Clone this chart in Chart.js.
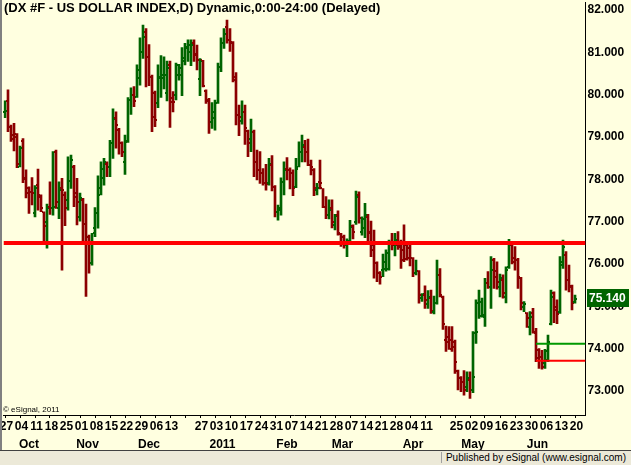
<!DOCTYPE html>
<html>
<head>
<meta charset="utf-8">
<script src="https://cdn.jsdelivr.net/npm/chart.js@4.4.1/dist/chart.umd.min.js"></script>
<style>
  html, body { margin: 0; padding: 0; background: #ece9d8; }
  #wrap { position: relative; width: 631px; height: 465px; overflow: hidden; }
  #chart { position: absolute; left: 0; top: 0; background: #ffffe0; }
  #edge { position: absolute; left: 0; top: 0; width: 2px; height: 450px; background: #808080; }
  #footer { position: absolute; left: 0; top: 450px; width: 631px; height: 14px; border-top: 1px solid #404040;
            background: #ece9d8; font: 10px "Liberation Sans", Arial, sans-serif; color: #000; }
  #footer span { position: absolute; right: 5px; top: 1px; padding-left: 4px; border-left: 1px solid #a0a0a0; }
</style>
</head>
<body>
<div id="wrap">
  <canvas id="chart" width="631" height="450"></canvas>
  <div id="edge"></div>
  <div id="footer"><span>Published by eSignal (www.esignal.com)</span></div>
</div>
<script>
// daily DX bars, 27 Sep 2010 .. 20 Jun 2011 (one bar per weekday)
const opens = [
  79.57,79.83,79.22,79.02,79.04,78.27,78.88,77.98,77.76,77.68,
  77.17,77.84,77.57,77.20,76.98,77.33,77.31,78.63,77.29,77.76,
  77.61,77.49,77.94,78.27,77.57,77.09,77.49,76.91,76.62,75.99,
  76.82,77.17,77.76,78.00,78.35,78.27,78.83,79.42,79.14,78.83,
  78.39,78.86,79.85,79.97,79.93,80.36,80.99,81.46,80.87,80.40,
  80.01,79.77,80.40,80.36,80.01,80.68,79.89,79.97,80.44,80.44,
  80.76,81.11,80.99,81.19,80.91,80.35,80.79,80.06,79.85,79.34,
  79.57,79.79,80.64,81.19,81.58,81.27,81.19,80.40,79.50,79.35,
  79.57,79.12,78.93,79.10,78.39,78.20,78.12,77.88,77.88,78.31,
  77.80,77.21,77.25,77.92,78.23,78.20,78.12,77.80,78.27,78.63,
  78.75,78.63,78.31,78.20,77.72,77.92,77.76,77.33,77.13,77.29,
  76.90,77.13,76.68,76.62,76.43,76.50,76.88,76.98,77.61,76.74,
  76.82,77.09,76.74,76.42,75.99,75.76,75.83,75.87,75.87,76.50,
  76.50,76.42,76.39,76.31,76.42,76.35,76.11,75.76,75.80,75.17,
  75.24,75.03,75.17,74.85,75.05,75.72,75.20,74.18,74.26,74.18,
  74.14,73.46,73.28,73.20,73.08,73.24,73.00,74.34,75.05,74.75,
  74.73,75.52,75.44,76.07,75.80,75.44,75.60,75.20,75.91,76.43,
  76.11,76.07,75.64,74.97,74.81,74.50,74.81,74.38,73.94,73.79,
  73.63,73.71,74.57,75.28,74.97,74.85,75.95,76.19,75.60,75.44,
  75.09
];
const highs = [
  79.83,80.09,79.26,79.30,79.06,78.76,78.94,78.20,77.80,78.02,
  77.83,78.22,77.61,77.21,77.39,77.92,78.63,78.67,77.92,78.00,
  77.68,78.51,78.55,78.31,78.00,77.65,77.53,77.39,76.66,76.70,
  77.31,78.06,78.39,78.47,78.39,78.90,79.64,79.57,79.18,78.86,
  79.02,79.91,80.14,80.17,80.68,81.32,81.62,81.54,81.16,80.44,
  80.06,80.68,80.90,80.87,80.77,80.77,80.05,80.72,80.69,81.09,
  81.19,81.27,81.27,81.27,81.15,80.83,80.79,80.09,79.89,79.79,
  79.85,80.72,81.32,81.54,81.74,81.54,81.23,80.50,79.73,79.83,
  79.73,79.14,79.40,79.14,78.67,78.63,78.23,78.33,78.47,78.54,
  77.83,77.37,78.01,78.39,78.49,78.25,78.20,78.47,78.86,79.02,
  78.90,78.93,78.43,78.23,77.88,78.43,77.76,77.57,77.49,77.49,
  77.15,77.23,76.70,76.66,76.57,77.01,76.90,77.70,77.68,77.09,
  77.41,77.15,76.99,76.78,76.03,75.80,76.21,76.31,76.54,76.70,
  76.70,76.74,76.54,76.90,76.50,76.43,76.13,76.07,75.82,75.28,
  75.46,75.35,75.36,75.22,76.07,75.87,75.22,74.51,74.50,74.50,
  74.18,73.47,73.32,73.46,73.43,73.43,74.38,75.13,75.36,75.17,
  75.64,75.80,76.15,76.11,76.03,75.74,75.72,75.91,76.56,76.46,
  76.39,76.11,75.66,75.09,74.83,74.85,74.93,74.46,73.98,73.94,
  73.96,74.30,75.36,75.32,75.13,76.15,76.54,76.27,75.95,75.48,
  75.24
];
const lows = [
  79.43,79.10,78.87,78.65,78.25,78.27,77.90,77.54,77.17,77.37,
  77.09,77.25,77.21,76.46,76.35,77.15,77.13,77.29,77.05,75.83,
  76.88,77.25,77.76,77.33,76.90,76.99,76.50,75.21,75.76,75.95,
  76.62,76.82,77.61,77.84,78.04,78.04,78.47,78.71,78.57,78.51,
  78.09,78.85,79.51,79.69,79.91,80.20,80.83,80.16,80.19,79.10,
  79.22,79.67,79.91,80.11,79.83,79.20,79.57,79.85,80.32,79.95,
  80.68,80.76,80.66,80.76,80.56,79.95,80.16,79.77,79.06,79.18,
  79.14,79.77,80.52,81.07,81.19,81.00,80.28,79.26,79.01,79.28,
  78.80,78.51,78.63,78.04,77.96,77.88,77.84,77.72,77.84,77.70,
  77.09,77.01,77.13,77.61,77.96,77.75,77.59,77.78,78.27,78.39,
  78.39,78.30,78.08,77.59,77.61,77.75,77.31,77.05,77.04,76.83,
  76.78,76.66,76.39,76.35,76.15,76.44,76.57,76.91,76.94,76.66,
  76.60,76.49,76.15,75.64,75.56,75.50,75.68,75.81,75.83,76.31,
  76.17,76.32,75.87,76.03,76.07,75.93,75.68,75.72,75.05,75.09,
  74.93,74.93,74.81,74.80,75.03,75.20,74.43,73.91,73.96,73.91,
  73.39,73.00,72.96,72.88,72.96,72.80,72.94,74.10,74.69,74.72,
  74.50,75.40,74.93,75.40,75.38,75.20,75.17,75.06,75.87,75.98,
  75.83,75.40,74.89,74.85,74.48,74.30,74.34,73.67,73.51,73.49,
  73.51,73.67,74.54,74.59,74.57,74.81,75.87,75.36,75.32,74.89,
  75.05
];
const closes = [
  79.60,79.22,78.94,78.98,78.35,78.72,78.00,77.65,77.68,77.66,
  77.76,77.61,77.31,76.88,77.29,77.29,77.33,77.45,77.72,77.72,
  77.29,77.94,78.43,77.65,77.45,77.53,76.91,76.62,75.99,76.70,
  77.17,77.61,78.23,78.39,78.27,78.83,79.40,79.26,78.83,78.63,
  78.88,79.85,79.97,79.83,80.56,80.99,81.35,80.87,80.40,79.46,
  79.38,80.36,80.43,80.44,80.60,79.81,79.80,80.68,80.61,80.85,
  81.09,81.15,81.15,80.93,80.79,80.76,80.19,79.83,79.34,79.43,
  79.77,80.64,81.19,81.42,81.27,81.23,80.32,79.50,79.46,79.56,
  79.18,78.83,79.10,78.39,78.20,78.12,77.88,77.86,78.33,77.80,
  77.21,77.29,77.92,78.20,78.20,78.12,77.76,78.23,78.63,78.79,
  78.63,78.31,78.27,77.76,77.78,77.88,77.33,77.13,77.25,76.98,
  77.12,76.70,76.50,76.43,76.52,76.86,76.74,77.57,77.07,77.04,
  77.13,76.70,76.31,75.99,75.76,75.68,76.03,76.23,76.50,76.42,
  76.54,76.37,76.07,76.09,76.11,76.11,75.76,75.81,75.24,75.27,
  75.13,75.20,74.87,75.05,75.72,75.24,74.57,74.14,73.98,74.01,
  73.67,73.28,73.20,73.00,73.28,72.99,73.30,74.36,75.09,74.78,
  75.52,75.44,75.83,75.68,75.56,75.64,75.28,75.83,76.46,76.03,
  76.07,75.66,75.05,75.03,74.69,74.73,74.35,73.75,73.79,73.55,
  73.91,74.14,75.19,74.89,74.80,76.03,76.37,75.60,75.46,75.05,
  75.14
];

// one label per week (Mondays), blanks where the original leaves them out
const weekLabels = ['27','04','11','18','25','01','08','15','22','29','06','13','',
  '27','03','10','17','24','31','07','14','21','28','07','14','21','28','04','11','',
  '25','02','09','16','23','30','06','13','20'];
const monthLabels = ['Oct','Nov','Dec','2011','Feb','Mar','Apr','May','Jun'];
const monthAt = [8, 27.5, 48, 72.5, 94, 112.5, 136, 156, 177.5]; // bar index under each name
const yTicks = [73, 74, 75, 76, 77, 78, 79, 80, 81, 82];

const resistance = 76.47;
const upperStop = 74.09;
const lowerStop = 73.69;
const stopFrom = 177;

const titleText = '(DX #F - US DOLLAR INDEX,D) Dynamic,0:00-24:00 (Delayed)';
const upColor = '#006400';
const downColor = '#8b0000';
const fontFamily = '"Liberation Sans", Arial, sans-serif';

const xMin = -0.5;
const xMax = 193.5;

const barColors = closes.map((c, i) => c >= opens[i] ? upColor : downColor);

// open tick on the left, close tick on the right of every bar
const ohlcTicks = {
  id: 'ohlcTicks',
  afterDatasetDraw(chart, args) {
    if (args.index !== 0) return;
    const {ctx, scales: {x, y}} = chart;
    ctx.save();
    opens.forEach((o, i) => {
      const px = Math.round(x.getPixelForValue(i));
      ctx.fillStyle = barColors[i];
      ctx.fillRect(px - 2, Math.round(y.getPixelForValue(o)) - 1, 1, 2);
      ctx.fillRect(px + 1, Math.round(y.getPixelForValue(closes[i])) - 1, 1, 2);
    });
    ctx.restore();
  }
};

const overlay = {
  id: 'overlay',
  afterDraw(chart) {
    const {ctx, chartArea, scales: {y}} = chart;
    ctx.save();
    ctx.fillStyle = '#000';
    ctx.textAlign = 'left';
    ctx.textBaseline = 'top';
    ctx.font = 'bold 13px ' + fontFamily;
    ctx.fillText(titleText, 4, 2);
    ctx.font = '8px ' + fontFamily;
    ctx.textBaseline = 'bottom';
    ctx.fillText('\u00a9 eSignal, 2011', 3, chartArea.bottom - 1);

    const last = closes[closes.length - 1];
    const py = Math.round(y.getPixelForValue(last));
    const bx = Math.round(y.left) + 1;
    ctx.fillStyle = upColor;
    ctx.fillRect(bx, py - 10, 42, 18);
    ctx.fillStyle = '#fff';
    ctx.font = 'bold 12px ' + fontFamily;
    ctx.textBaseline = 'middle';
    ctx.fillText(last.toFixed(3), bx + 2, py);
    ctx.restore();
  }
};

function flatLine(value, from, color, width) {
  return {
    type: 'line',
    data: [{x: from, y: value}, {x: xMax, y: value}],
    borderColor: color,
    borderWidth: width,
    pointRadius: 0,
    xAxisID: 'x',
    yAxisID: 'y',
    order: 1
  };
}

new Chart(document.getElementById('chart'), {
  type: 'bar',
  data: {
    datasets: [
      {
        type: 'bar',
        data: highs.map((h, i) => ({x: i, y: [lows[i], h]})),
        backgroundColor: barColors,
        barThickness: 2,
        xAxisID: 'x',
        yAxisID: 'y',
        order: 2
      },
      flatLine(resistance, xMin, '#ff0000', 4),
      flatLine(upperStop, stopFrom, '#009900', 2),
      flatLine(lowerStop, stopFrom, '#ff0000', 2)
    ]
  },
  options: {
    responsive: false,
    animation: false,
    devicePixelRatio: 1,
    layout: {padding: {left: 3.5, top: 2, right: 0, bottom: 0}},
    plugins: {legend: {display: false}, tooltip: {enabled: false}},
    scales: {
      x: {type: 'linear', min: xMin, max: xMax, offset: false, display: false},
      xd: {
        type: 'linear', axis: 'x', position: 'bottom', weight: 0,
        min: xMin, max: xMax, offset: false,
        afterBuildTicks: s => { s.ticks = weekLabels.map((t, k) => ({value: k * 5})); },
        afterFit: s => { s.height = 19; s.paddingLeft = 0; s.paddingRight = 0; },
        grid: {drawOnChartArea: false, drawTicks: true, tickLength: 3, color: '#000', offset: false},
        border: {color: '#000', width: 1},
        ticks: {
          autoSkip: false, maxRotation: 0, padding: 1, labelOffset: 1.5,
          callback: (v, i) => weekLabels[i],
          color: '#000', font: {family: fontFamily, size: 12, weight: 'bold'}
        }
      },
      xm: {
        type: 'linear', axis: 'x', position: 'bottom', weight: 1,
        min: xMin, max: xMax, offset: false,
        afterBuildTicks: s => { s.ticks = monthAt.map(v => ({value: v})); },
        afterFit: s => { s.height = 16; s.paddingLeft = 0; s.paddingRight = 0; },
        grid: {display: false, drawTicks: false},
        border: {display: false},
        ticks: {
          autoSkip: false, maxRotation: 0, padding: 3,
          callback: (v, i) => monthLabels[i],
          color: '#000', font: {family: fontFamily, size: 12, weight: 'bold'}
        }
      },
      y: {
        position: 'right',
        min: 72.41,
        max: 82.165,
        afterBuildTicks: s => { s.ticks = yTicks.map(v => ({value: v})); },
        afterFit: s => { s.width = 45.5; s.paddingTop = 0; s.paddingBottom = 0; },
        grid: {drawOnChartArea: false, drawTicks: false},
        border: {color: '#000', width: 1},
        ticks: {
          padding: 2, labelOffset: 1,
          callback: v => v.toFixed(3),
          color: '#000', font: {family: fontFamily, size: 12, weight: 'bold'}
        }
      }
    }
  },
  plugins: [ohlcTicks, overlay]
});
</script>
</body>
</html>
